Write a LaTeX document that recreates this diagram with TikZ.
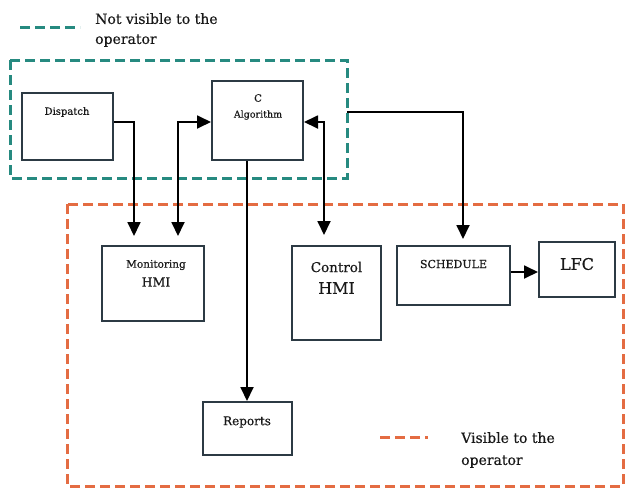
\documentclass[tikz,border=0pt]{standalone}
\usepackage{fontspec}
\setmainfont{DejaVu Serif}[FakeBold=0.5]
\usetikzlibrary{arrows.meta}
\definecolor{tealdash}{RGB}{38,138,128}
\definecolor{orangedash}{RGB}{228,108,66}
\definecolor{boxline}{RGB}{44,58,68}

\begin{document}
\begin{tikzpicture}[x=1pt,y=-1pt,
    box/.style={draw=boxline,line width=2pt,inner sep=0pt},
    txt/.style={text=black!90,align=center,inner sep=0pt},
    arr/.style={line width=1.8pt,-{Triangle[length=14pt,width=13pt]}},
    darr/.style={line width=1.8pt,{Triangle[length=14pt,width=13pt]}-{Triangle[length=14pt,width=13pt]}},
    hidden/.style={tealdash,line width=3pt,dash pattern=on 10pt off 5pt},
    shown/.style={orangedash,line width=3pt,dash pattern=on 10pt off 5pt}]
  \useasboundingbox (0,0) rectangle (626,491);
  \draw[hidden] (10,60) rectangle (347,178);
  \draw[shown] (67,204) rectangle (623,486);
  \draw[hidden] (20,27) -- (80,27);
  \node[txt,anchor=west,align=left,font=\fontsize{14}{20}\selectfont] (hiddentxt) at (95,30) {Not visible to the\\operator};
  \draw[shown] (380,437) -- (428,437);
  \node[txt,anchor=west,align=left,font=\fontsize{14}{22}\selectfont] (showntxt) at (461,450) {Visible to the\\operator};

  \node[box,minimum width=91pt,minimum height=67pt] (disp) at (67.5,126.5) {};
  \node[txt,font=\fontsize{10}{12}\selectfont] (disptxt) at (67,112) {Dispatch};
  \node[box,minimum width=91pt,minimum height=79pt] (calg) at (257.5,120.5) {};
  \node[txt,font=\fontsize{10}{12}\selectfont] (calgc) at (258,98) {C};
  \node[txt,font=\fontsize{9.5}{12}\selectfont] (calgtxt) at (258,115) {Algorithm};
  \node[box,minimum width=102pt,minimum height=75pt] (mon) at (153,283.5) {};
  \node[txt,font=\fontsize{10.5}{12}\selectfont] (montxt) at (156,265) {Monitoring};
  \node[txt,font=\fontsize{12.5}{14}\selectfont] (monhmi) at (156,282) {HMI};
  \node[box,minimum width=89pt,minimum height=94pt] (ctrl) at (336.5,293) {};
  \node[txt,font=\fontsize{13.5}{15}\selectfont] (ctrltxt) at (336.5,267) {Control};
  \node[txt,font=\fontsize{16}{18}\selectfont] (ctrlhmi) at (336.5,288) {HMI};
  \node[box,minimum width=113pt,minimum height=59pt] (sched) at (453.5,275.5) {};
  \node[txt,font=\fontsize{11}{13}\selectfont] (schedtxt) at (453.5,264) {SCHEDULE};
  \node[box,minimum width=76pt,minimum height=55pt] (lfc) at (577,269.5) {};
  \node[txt,font=\fontsize{16}{18}\selectfont] (lfctxt) at (577,264) {LFC};
  \node[box,minimum width=89pt,minimum height=53pt] (rep) at (247,428.5) {};
  \node[txt,font=\fontsize{12}{14}\selectfont] (reptxt) at (247,422) {Reports};

  \coordinate (tealout) at (347,112);
  \draw[arr,shorten >=9pt] ([yshift=4.5pt]disp.east) -| ([xshift=-19pt]mon.north);
  \draw[darr,shorten <=9pt] ([xshift=25pt]mon.north) |- ([yshift=-1.5pt]calg.west);
  \draw[darr,shorten >=10pt] ([yshift=-1.5pt]calg.east) -| ([xshift=-12.5pt]ctrl.north);
  \draw[arr,shorten >=6pt] (tealout) -| ([xshift=9.5pt]sched.north);
  \draw[arr] ([yshift=3.5pt]sched.east) -- ([yshift=-2.5pt]lfc.west);
  \draw[arr] ([xshift=-10.5pt]calg.south) -- (rep.north);
\end{tikzpicture}
\end{document}
